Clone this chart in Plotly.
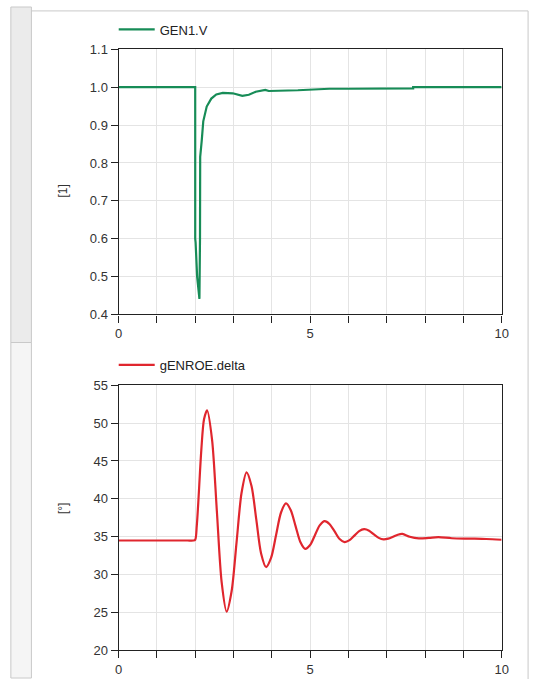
import plotly.graph_objects as go

# ---- data ----
t_v = [0, 2.0, 2.0, 2.01, 2.05, 2.11, 2.125, 2.13, 2.17, 2.21, 2.3, 2.42, 2.55, 2.72,
       2.98, 3.23, 3.4, 3.58, 3.83, 3.92, 4.68, 5.0, 5.5, 6.0, 7.0, 7.69, 7.69, 10.0]
gen1_v = [1.0, 1.0, 0.6, 0.59, 0.5, 0.441, 0.6, 0.816, 0.859, 0.91, 0.949, 0.97, 0.981, 0.985,
          0.984, 0.977, 0.98, 0.988, 0.993, 0.99, 0.992, 0.994, 0.996, 0.996, 0.996, 0.997, 1.0, 1.0]

t_d = [0, 0.5, 1.0, 1.5, 1.8, 1.95, 2.0, 2.04, 2.08, 2.16, 2.23, 2.31, 2.44, 2.565, 2.69, 2.82,
       2.95, 3.08, 3.21, 3.34, 3.47, 3.595, 3.72, 3.85, 3.98, 4.11, 4.24, 4.37, 4.495, 4.62,
       4.745, 4.87, 5.0, 5.125, 5.25, 5.38, 5.51, 5.64, 5.77, 5.9, 6.03, 6.155, 6.28, 6.41,
       6.54, 6.665, 6.79, 6.92, 7.04, 7.165, 7.29, 7.41, 7.6, 7.84, 8.1, 8.35, 8.7, 9.2, 9.6, 10.0]
delta = [34.5, 34.5, 34.5, 34.5, 34.5, 34.5, 34.6, 36.4, 39.5, 46.5, 50.5, 51.7, 47.8, 38.4, 29.0,
         25.1, 27.8, 34.3, 40.8, 43.5, 41.7, 37.25, 32.8, 31.0, 32.2, 35.2, 38.2, 39.4, 38.5, 36.4,
         34.3, 33.4, 33.9, 35.2, 36.5, 37.05, 36.65, 35.7, 34.7, 34.3, 34.55, 35.15, 35.75, 36.0,
         35.8, 35.3, 34.85, 34.65, 34.75, 35.0, 35.27, 35.37, 35.0, 34.78, 34.85, 34.95, 34.8,
         34.75, 34.7, 34.6]

x_ticks = [0, 1, 2, 3, 4, 5, 6, 7, 8, 9, 10]
x_labels = ["0", "", "", "", "", "5", "", "", "", "", "10"]
y1_ticks = [0.4, 0.5, 0.6, 0.7, 0.8, 0.9, 1.0, 1.1]
y2_ticks = [20, 25, 30, 35, 40, 45, 50, 55]

W, H = 539, 687
def px(x):
    return x / W
def py(y):
    return 1 - y / H

GREEN = "#178c57"
RED = "#e0262e"
FONT = "Liberation Sans, Arial, sans-serif"

fig = go.Figure()
fig.add_trace(go.Scatter(x=t_v, y=gen1_v, mode="lines", name="GEN1.V",
                         line=dict(color=GREEN, width=2.2), xaxis="x", yaxis="y",
                         legend="legend"))
fig.add_trace(go.Scatter(x=t_d, y=delta, mode="lines", name="gENROE.delta",
                         line=dict(color=RED, width=2.2, shape="spline", smoothing=0.8),
                         xaxis="x2", yaxis="y2", legend="legend2"))

axis_common = dict(showline=True, linecolor="#222", linewidth=1.2, mirror=True,
                   showgrid=True, gridcolor="#e4e4e4", gridwidth=1, zeroline=False,
                   ticks="outside", tickcolor="#222", ticklen=7, tickwidth=1.2,
                   tickfont=dict(family=FONT, size=13, color="#333"))

xdom = [px(117), px(508)]
fig.update_layout(
    width=W, height=H, margin=dict(l=0, r=0, t=0, b=0),
    paper_bgcolor="white", plot_bgcolor="white",
    xaxis=dict(domain=xdom, anchor="y", range=[0, 10], tickvals=x_ticks, ticktext=x_labels,
               **axis_common),
    yaxis=dict(domain=[py(314.3), py(43.3)], anchor="x", range=[0.4, 1.1], tickvals=y1_ticks,
               tickformat=".1f", **axis_common),
    xaxis2=dict(domain=xdom, anchor="y2", range=[0, 10], tickvals=x_ticks, ticktext=x_labels,
                **axis_common),
    yaxis2=dict(domain=[py(657.7), py(386.7)], anchor="x2", range=[20, 55], tickvals=y2_ticks,
                **axis_common),
    legend=dict(x=px(112), y=py(23), xanchor="left", yanchor="middle", bgcolor="rgba(0,0,0,0)",
                font=dict(family=FONT, size=13, color="#222"), itemwidth=36),
    legend2=dict(x=px(112), y=py(366), xanchor="left", yanchor="middle", bgcolor="rgba(0,0,0,0)",
                 font=dict(family=FONT, size=13, color="#222"), itemwidth=36),
    showlegend=True,
)

# y-axis titles
fig.add_annotation(text="[1]", x=px(51), y=py(179), xref="paper", yref="paper",
                   textangle=-90, showarrow=False, font=dict(family=FONT, size=12, color="#333"))
fig.add_annotation(text="[°]", x=px(51), y=py(520), xref="paper", yref="paper",
                   textangle=-90, showarrow=False, font=dict(family=FONT, size=12, color="#333"))

# surrounding frame (panel chrome)
shapes = [
    dict(type="rect", x0=px(7), x1=px(28), y0=py(343), y1=py(0), fillcolor="#ebebeb",
         line=dict(color="#c9c9c9", width=1)),
    dict(type="rect", x0=px(7), x1=px(28), y0=py(686), y1=py(343), fillcolor="#f5f5f5",
         line=dict(color="#c9c9c9", width=1)),
    dict(type="line", x0=px(28), x1=px(535), y0=py(4), y1=py(4), line=dict(color="#c9c9c9", width=1)),
    dict(type="line", x0=px(535), x1=px(535), y0=py(4), y1=py(687), line=dict(color="#c9c9c9", width=1)),
]
for s in shapes:
    s.update(xref="paper", yref="paper", layer="below")
    fig.add_shape(**s)

fig.write_html("out.html")
